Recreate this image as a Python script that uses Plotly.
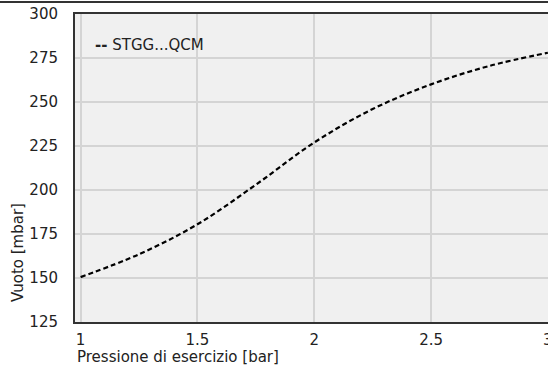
import plotly.graph_objects as go

pressione = [1.0, 1.25, 1.5, 1.75, 2.0, 2.25, 2.5, 2.75, 3.0]
vuoto = [150.5, 163.5, 180.5, 203, 227, 246, 260, 270.5, 278]
serie = "STGG...QCM"
x_ticks = [1, 1.5, 2, 2.5, 3]
x_ticktext = ["1", "1.5", "2", "2.5", "3"]
y_ticks = [125, 150, 175, 200, 225, 250, 275, 300]

FONT = "DejaVu Sans"
FS = 15
W, H = 548, 369
L, T, B, R = 75, 14, 47, 0
pw, ph = W - L - R, H - T - B

def px_to_paper_x(px):
    return (px - L) / pw

def px_to_paper_y(py):
    return (H - B - py) / ph

fig = go.Figure()
fig.add_trace(go.Scatter(
    x=pressione, y=vuoto, mode="lines", name=serie,
    line=dict(color="black", width=2.2, dash="5px,3px", shape="spline"),
    showlegend=False,
))

fig.update_layout(
    width=W, height=H,
    margin=dict(l=L, r=R, t=T, b=B, autoexpand=False),
    paper_bgcolor="white",
    plot_bgcolor="#f0f0f0",
    font=dict(family=FONT, size=FS, color="#222"),
    xaxis=dict(
        range=[0.976, 3.0005], tickvals=x_ticks, ticktext=x_ticktext,
        showgrid=True, gridcolor="#d4d4d4", gridwidth=1.5,
        showline=True, linecolor="#333", linewidth=2, mirror=True,
        zeroline=False, ticks="", ticklabelstandoff=3,
        ticklabeloverflow="allow",
        tickfont=dict(family=FONT, size=FS, color="#222"),
    ),
    yaxis=dict(
        range=[125, 300], tickvals=y_ticks,
        showgrid=True, gridcolor="#d4d4d4", gridwidth=1.5,
        showline=True, linecolor="#333", linewidth=2,
        zeroline=False, ticks="", ticklabelstandoff=12,
        tickfont=dict(family=FONT, size=FS, color="#222"),
    ),
    annotations=[
        dict(text="Pressione di esercizio [bar]", xref="paper", yref="paper",
             x=px_to_paper_x(75), y=px_to_paper_y(357), xanchor="left", yanchor="middle",
             showarrow=False, font=dict(family=FONT, size=FS, color="#222")),
        dict(text="Vuoto [mbar]", xref="paper", yref="paper",
             x=px_to_paper_x(18), y=px_to_paper_y(253), xanchor="center", yanchor="middle",
             textangle=-90, showarrow=False, font=dict(family=FONT, size=FS, color="#222")),
        dict(text="<b>--</b> " + serie, xref="paper", yref="paper",
             x=px_to_paper_x(93), y=px_to_paper_y(45), xanchor="left", yanchor="middle",
             showarrow=False, font=dict(family=FONT, size=FS, color="#222")),
    ],
    shapes=[
        dict(type="line", xref="paper", yref="paper",
             x0=-0.2, x1=1.1, y0=px_to_paper_y(2), y1=px_to_paper_y(2),
             line=dict(color="#333", width=2)),
    ],
)

fig.write_html("out.html")
